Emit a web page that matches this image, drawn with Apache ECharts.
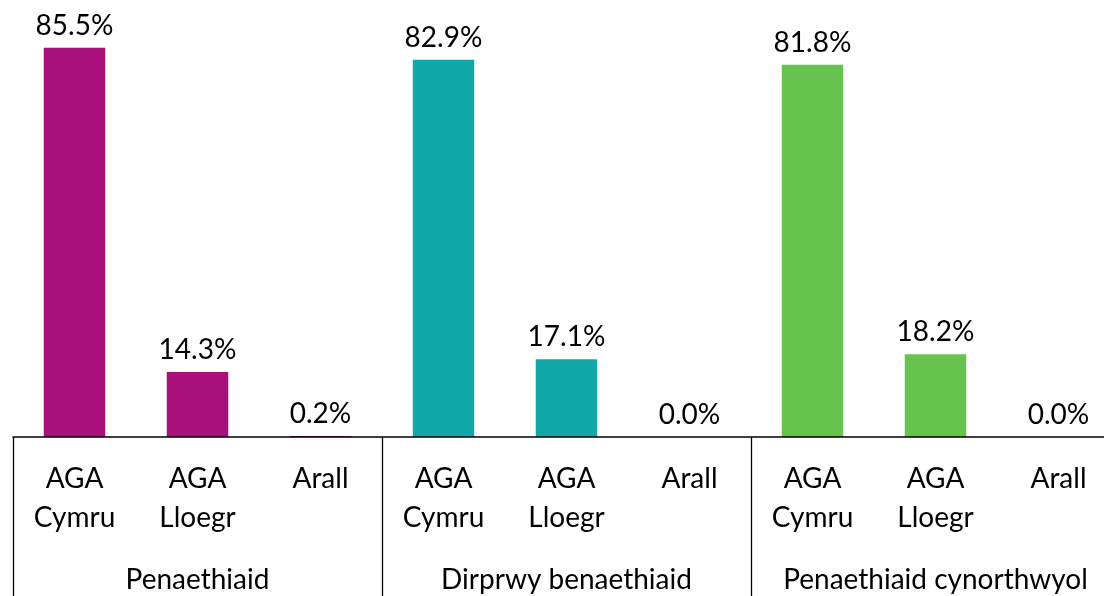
<!DOCTYPE html>
<html>
<head>
<meta charset="utf-8">
<script src="https://cdn.jsdelivr.net/npm/echarts@6/dist/echarts.min.js"></script>
<style>
  html, body { margin: 0; padding: 0; background: #fff; }
  #chart { width: 1104px; height: 596px; }
</style>
</head>
<body>
<div id="chart"></div>
<script>
  var categories = [
    'AGA\nCymru', 'AGA\nLloegr', 'Arall',
    'AGA\nCymru', 'AGA\nLloegr', 'Arall',
    'AGA\nCymru', 'AGA\nLloegr', 'Arall'
  ];
  var groups = ['Penaethiaid', 'Dirprwy benaethiaid', 'Penaethiaid cynorthwyol'];
  var values = [85.5, 14.3, 0.2, 82.9, 17.1, 0.0, 81.8, 18.2, 0.0];
  var groupColors = ['#A8117A', '#12A7A8', '#66C34E'];

  var font = 'Lato, "Open Sans", sans-serif';

  var barData = values.map(function (v, i) {
    return { value: v, itemStyle: { color: groupColors[Math.floor(i / 3)] } };
  });

  var chart = echarts.init(document.getElementById('chart'));
  chart.setOption({
    animation: false,
    textStyle: { fontFamily: font },
    grid: {
      left: 13,
      right: -16,
      top: 0,
      bottom: 159,
      containLabel: false,
      outerBoundsMode: 'none'
    },
    xAxis: [
      {
        type: 'category',
        data: categories,
        position: 'bottom',
        z: 5,
        axisLine: { lineStyle: { color: '#000', width: 1.5 } },
        axisTick: { show: false },
        axisLabel: {
          interval: 0,
          color: '#000',
          fontSize: 28,
          lineHeight: 39,
          margin: 22,
          fontFamily: font
        }
      },
      {
        type: 'category',
        data: groups,
        position: 'bottom',
        axisLine: { show: false },
        axisTick: {
          show: true,
          length: 170,
          lineStyle: { color: '#000', width: 1.3 }
        },
        axisLabel: {
          interval: 0,
          color: '#000',
          fontSize: 28,
          lineHeight: 32,
          margin: 127,
          fontFamily: font
        }
      }
    ],
    yAxis: {
      type: 'value',
      min: 0,
      max: 96,
      show: false,
      splitLine: { show: false }
    },
    series: [
      {
        type: 'bar',
        xAxisIndex: 0,
        data: barData,
        barWidth: '50%',
        z: 1,
        label: {
          show: true,
          position: 'top',
          distance: 8,
          color: '#000',
          fontSize: 28,
          fontFamily: font,
          formatter: function (p) { return p.value.toFixed(1) + '%'; }
        }
      }
    ]
  });
</script>
</body>
</html>
